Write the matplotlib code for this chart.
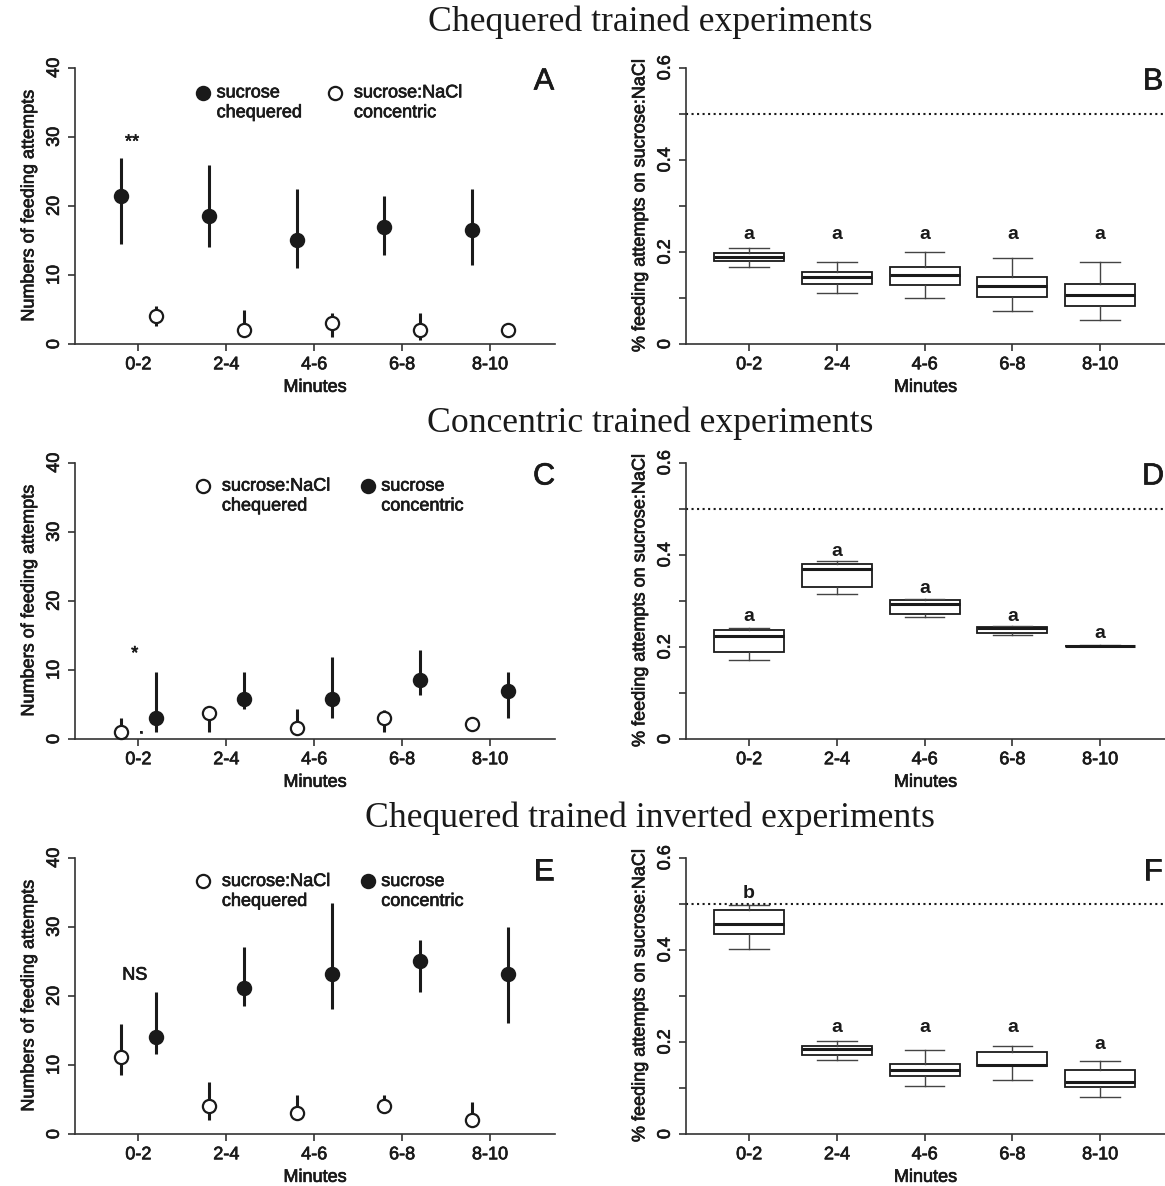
import numpy as np
import matplotlib
matplotlib.use("Agg")
import matplotlib.pyplot as plt
import matplotlib.patheffects as pe

plt.rcParams['font.family'] = ['Liberation Sans', 'DejaVu Sans']

# data
minutes = ['0-2', '2-4', '4-6', '6-8', '8-10']

# A: chequered trained (mean, lower, upper)
A_suc_mean = [21.5, 18.5, 15.0, 17.0, 16.5]
A_suc_lo = [14.5, 14.0, 11.0, 12.9, 11.5]
A_suc_hi = [26.9, 25.9, 22.5, 21.4, 22.4]
A_nacl_mean = [4.0, 2.0, 3.0, 2.0, 2.0]
A_nacl_lo = [2.6, 2.0, 1.0, 0.6, 1.6]
A_nacl_hi = [5.5, 5.0, 4.5, 4.5, 2.9]

# C: concentric trained
C_nacl_mean = [1.0, 3.8, 1.6, 3.1, 2.1]
C_nacl_lo = [1.0, 1.0, 1.6, 1.0, 1.4]
C_nacl_hi = [3.1, 4.2, 4.3, 4.2, 2.6]
C_suc_mean = [3.1, 5.8, 5.8, 8.6, 6.9]
C_suc_lo = [1.0, 4.3, 3.1, 6.4, 3.1]
C_suc_hi = [9.7, 9.7, 11.9, 12.9, 9.7]

# E: chequered trained inverted
E_nacl_mean = [11.1, 4.1, 3.1, 4.1, 2.1]
E_nacl_lo = [8.5, 2.1, 3.1, 4.1, 1.1]
E_nacl_hi = [16.0, 7.6, 5.6, 5.6, 4.6]
E_suc_mean = [14.0, 21.1, 23.1, 25.1, 23.1]
E_suc_lo = [11.6, 18.6, 18.1, 20.6, 16.1]
E_suc_hi = [20.6, 27.1, 33.5, 28.1, 30.0]

# boxplots: whislo, q1, median, q3, whishi
B_box = [(0.167, 0.181, 0.190, 0.198, 0.208),
         (0.111, 0.131, 0.145, 0.157, 0.178),
         (0.100, 0.128, 0.150, 0.167, 0.200),
         (0.071, 0.102, 0.125, 0.145, 0.186),
         (0.052, 0.082, 0.107, 0.131, 0.179)]
D_box = [(0.172, 0.188, 0.224, 0.236, 0.242),
         (0.315, 0.331, 0.369, 0.381, 0.387),
         (0.264, 0.272, 0.293, 0.301, 0.305),
         (0.226, 0.231, 0.241, 0.244, 0.246),
         (0.202, 0.202, 0.203, 0.203, 0.204)]
F_box = [(0.401, 0.435, 0.455, 0.4865, 0.4965),
         (0.160, 0.171, 0.185, 0.191, 0.202),
         (0.105, 0.127, 0.139, 0.153, 0.182),
         (0.117, 0.147, 0.149, 0.179, 0.192),
         (0.080, 0.103, 0.112, 0.139, 0.158)]
B_letters = ['a', 'a', 'a', 'a', 'a']
B_letter_y = [0.238, 0.238, 0.238, 0.238, 0.238]
D_letters = ['a', 'a', 'a', 'a', 'a']
D_letter_y = [0.266, 0.407, 0.327, 0.266, 0.230]
F_letters = ['b', 'a', 'a', 'a', 'a']
F_letter_y = [0.523, 0.232, 0.232, 0.232, 0.195]

FS = 13
INK = '#1a1a1a'
HEAVY = [pe.withStroke(linewidth=0.5, foreground=INK)]

fig = plt.figure(figsize=(11.65, 11.86), dpi=100)


def style_axes(ax, ylim, yticks, ylabels, ylabel):
    x = np.arange(1, len(minutes) + 1)
    ax.set_xlim(0.28, 5.74)
    ax.set_ylim(*ylim)
    for s in ['top', 'right']:
        ax.spines[s].set_visible(False)
    for s in ['left', 'bottom']:
        ax.spines[s].set_linewidth(1.2)
        ax.spines[s].set_color('#333333')
    ax.set_xticks(x)
    ax.set_xticklabels(minutes, fontsize=FS)
    ax.set_yticks(yticks)
    ax.set_yticklabels(ylabels, fontsize=FS, rotation=90, va='center')
    ax.tick_params(length=5.3, width=1.2, color='#333333', pad=3.5)
    ax.set_xlabel('Minutes', fontsize=FS, labelpad=4)
    ax.set_ylabel(ylabel, fontsize=FS, labelpad=6)
    for t in ax.get_xticklabels() + ax.get_yticklabels() + [ax.xaxis.label, ax.yaxis.label]:
        t.set_color(INK)
        t.set_path_effects(HEAVY)


def dot_panel(rect, series, legend, star, letter):
    ax = fig.add_axes(rect)
    x = np.arange(1, len(minutes) + 1)
    for off, mean, lo, hi, filled in series:
        ax.vlines(x + off, lo, hi, color=INK, lw=2.2, zorder=2, clip_on=False)
        ax.plot(x + off, mean, 'o', ms=9.5, mfc=INK if filled else 'white',
                mec=INK, mew=1.6, ls='none', zorder=3, clip_on=False)
    for mx, filled, tx, l1, l2, y1, y2 in legend:
        ax.plot(mx, y1, 'o', ms=9.5, mfc=INK if filled else 'white', mec=INK,
                mew=1.6, transform=ax.transAxes, clip_on=False)
        ax.text(tx, y1, l1, fontsize=FS, va='center', color=INK,
                transform=ax.transAxes, path_effects=HEAVY)
        ax.text(tx, y2, l2, fontsize=FS, va='center', color=INK,
                transform=ax.transAxes, path_effects=HEAVY)
    for sx, sy, s in star:
        ax.text(sx, sy, s, fontsize=FS, ha='center', va='center', color=INK,
                path_effects=HEAVY)
    ax.text(0.977, 0.95, letter, fontsize=22, ha='center', va='center', color=INK,
            transform=ax.transAxes, path_effects=HEAVY)
    style_axes(ax, (0, 40), [0, 10, 20, 30, 40], ['0', '10', '20', '30', '40'],
               'Numbers of feeding attempts')
    return ax


def box_panel(rect, boxes, letters, letter_y, letter):
    ax = fig.add_axes(rect)
    x = np.arange(1, len(minutes) + 1)
    stats = [dict(whislo=b[0], q1=b[1], med=b[2], q3=b[3], whishi=b[4], fliers=[])
             for b in boxes]
    ax.bxp(stats, positions=x, widths=0.8, capwidths=0.45, showfliers=False,
           patch_artist=True,
           boxprops=dict(facecolor='white', edgecolor=INK, lw=1.3),
           medianprops=dict(color=INK, lw=2.2),
           whiskerprops=dict(color='#444444', lw=1.0, ls='-'),
           capprops=dict(color='#444444', lw=1.0))
    ax.axhline(0.5, color=INK, ls=':', lw=1.5, clip_on=False)
    for xi, s, yy in zip(x, letters, letter_y):
        ax.text(xi, yy, s, fontsize=14, fontweight='bold', ha='center',
                va='center', color=INK)
    ax.text(0.975, 0.95, letter, fontsize=22, ha='center', va='center', color=INK,
            transform=ax.transAxes, path_effects=HEAVY)
    style_axes(ax, (0, 0.6), [0, 0.1, 0.2, 0.3, 0.4, 0.5, 0.6],
               ['0', '', '0.2', '', '0.4', '', '0.6'],
               '% feeding attempts on sucrose:NaCl')
    return ax


LX, LW = 0.0644, 0.412
RX, RW = 0.5888, 0.4112
H = 0.233

dot_panel([LX, 0.7099, LW, H],
          [(-0.2, A_suc_mean, A_suc_lo, A_suc_hi, True),
           (0.2, A_nacl_mean, A_nacl_lo, A_nacl_hi, False)],
          [(0.267, True, 0.295, 'sucrose', 'chequered', 0.909, 0.837),
           (0.542, False, 0.581, 'sucrose:NaCl', 'concentric', 0.909, 0.837)],
          [(0.93, 29.2, '**')], 'A')
box_panel([RX, 0.7099, RW, H], B_box, B_letters, B_letter_y, 'B')

dot_panel([LX, 0.3769, LW, H],
          [(-0.2, C_nacl_mean, C_nacl_lo, C_nacl_hi, False),
           (0.2, C_suc_mean, C_suc_lo, C_suc_hi, True)],
          [(0.267, False, 0.306, 'sucrose:NaCl', 'chequered', 0.915, 0.843),
           (0.611, True, 0.638, 'sucrose', 'concentric', 0.915, 0.843)],
          [(0.96, 12.3, '*'), (1.03, 1.0, '\u00b7')], 'C')
box_panel([RX, 0.3769, RW, H], D_box, D_letters, D_letter_y, 'D')

dot_panel([LX, 0.0438, LW, H],
          [(-0.2, E_nacl_mean, E_nacl_lo, E_nacl_hi, False),
           (0.2, E_suc_mean, E_suc_lo, E_suc_hi, True)],
          [(0.267, False, 0.306, 'sucrose:NaCl', 'chequered', 0.914, 0.842),
           (0.611, True, 0.638, 'sucrose', 'concentric', 0.914, 0.842)],
          [(0.96, 23.0, 'NS')], 'E')
box_panel([RX, 0.0438, RW, H], F_box, F_letters, F_letter_y, 'F')

# row titles
for ty, t in [(0.9815, 'Chequered trained experiments'),
              (0.6433, 'Concentric trained experiments'),
              (0.3103, 'Chequered trained inverted experiments')]:
    fig.text(0.558, ty, t, fontsize=25.7, family='Liberation Serif',
             ha='center', va='center', color=INK)

fig.savefig('out.png', dpi=100)
